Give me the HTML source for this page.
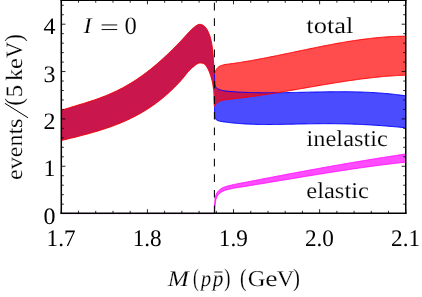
<!DOCTYPE html>
<html><head><meta charset="utf-8"><title>chart</title>
<style>
html,body{margin:0;padding:0;background:#fff;}
body{width:422px;height:297px;overflow:hidden;}
svg{display:block;font-family:"Liberation Serif",serif;text-rendering:geometricPrecision;}
</style></head><body>
<svg width="422" height="297" viewBox="0 0 422 297">
<defs><filter id="nf" filterUnits="userSpaceOnUse" x="0" y="0" width="422" height="297"><feOffset dx="0" dy="0"/></filter></defs>
<rect width="422" height="297" fill="#fff"/>
<g stroke="none">
<path d="M61.30 110.36L62.22 110.06L63.14 109.76L64.07 109.46L64.99 109.16L65.91 108.86L66.83 108.56L67.75 108.26L68.68 107.96L69.60 107.67L70.52 107.38L71.44 107.09L72.36 106.81L73.29 106.53L74.21 106.25L75.13 105.97L76.05 105.69L76.98 105.42L77.90 105.14L78.82 104.86L79.74 104.58L80.67 104.29L81.59 104.01L82.51 103.73L83.43 103.45L84.36 103.17L85.28 102.88L86.20 102.60L87.12 102.31L88.04 102.01L88.96 101.72L89.89 101.42L90.81 101.11L91.74 100.81L92.66 100.50L93.58 100.19L94.50 99.88L95.43 99.57L96.35 99.25L97.27 98.92L98.19 98.59L99.11 98.25L100.04 97.91L100.96 97.57L101.88 97.22L102.81 96.87L103.73 96.51L104.65 96.15L105.57 95.78L106.49 95.40L107.41 95.02L108.25 94.67L109.09 94.31L109.93 93.95L110.77 93.58L111.61 93.21L112.45 92.83L113.29 92.45L114.13 92.07L114.96 91.68L115.80 91.28L116.63 90.88L117.47 90.46L118.32 90.05L119.16 89.62L120.00 89.19L120.84 88.76L121.68 88.32L122.51 87.88L123.35 87.43L124.19 86.97L125.02 86.51L125.85 86.04L126.70 85.56L127.54 85.07L128.38 84.58L129.22 84.08L130.06 83.58L130.90 83.07L131.74 82.56L132.57 82.04L133.41 81.51L134.24 80.98L135.07 80.44L135.85 79.94L136.62 79.42L137.39 78.91L138.17 78.38L138.94 77.86L139.71 77.32L140.47 76.79L141.24 76.25L142.01 75.70L142.77 75.15L143.53 74.60L144.29 74.04L145.07 73.46L145.84 72.88L146.62 72.29L147.39 71.70L148.16 71.11L148.93 70.51L149.70 69.90L150.46 69.29L151.23 68.68L151.99 68.06L152.75 67.44L153.51 66.81L154.23 66.22L154.95 65.62L155.66 65.02L156.37 64.41L157.08 63.80L157.79 63.19L158.50 62.57L159.21 61.95L159.92 61.33L160.62 60.70L161.33 60.07L162.03 59.43L162.74 58.80L163.45 58.14L164.17 57.49L164.88 56.83L165.59 56.16L166.30 55.49L167.01 54.82L167.72 54.15L168.43 53.47L169.14 52.79L169.84 52.11L170.55 51.42L171.25 50.73L171.96 50.04L172.62 49.39L173.28 48.73L173.95 48.07L174.61 47.40L175.27 46.74L175.93 46.07L176.59 45.39L177.24 44.72L177.90 44.04L178.56 43.37L179.21 42.69L179.87 42.01L180.52 41.32L181.18 40.64L181.85 39.93L182.52 39.20L183.21 38.46L183.89 37.70L184.58 36.94L185.27 36.18L185.95 35.43L186.63 34.68L187.29 33.95L187.95 33.24L188.59 32.56L189.21 31.90L189.82 31.28L190.40 30.70L191.19 29.94L191.96 29.22L192.71 28.53L193.43 27.89L194.12 27.31L194.78 26.77L195.40 26.30L196.25 25.70L197.04 25.22L197.80 24.85L198.74 24.50L199.70 24.35L200.48 24.40L201.30 24.58L202.10 24.85L202.92 25.23L203.73 25.71L204.50 26.30L205.14 26.93L205.76 27.67L206.35 28.47L206.90 29.30L207.35 30.06L207.77 30.87L208.17 31.70L208.54 32.55L208.90 33.40L209.24 34.25L209.55 35.09L209.84 35.96L210.13 36.85L210.40 37.80L210.63 38.65L210.85 39.52L211.07 40.41L211.27 41.34L211.47 42.31L211.66 43.32L211.85 44.40L211.98 45.20L212.10 46.04L212.22 46.93L212.34 47.85L212.45 48.79L212.56 49.76L212.67 50.74L212.77 51.73L212.87 52.72L212.96 53.70L213.05 54.66L213.14 55.61L213.22 56.52L213.30 57.40L213.38 58.43L213.46 59.44L213.53 60.45L213.59 61.44L213.64 62.41L213.70 63.37L213.75 64.31L213.80 65.23L213.85 66.12L213.90 67.00L213.96 67.98L214.02 68.92L214.08 69.83L214.13 70.73L214.19 71.61L214.24 72.50L214.30 73.40 L214.50 73.40 L214.50 106.20 L214.30 106.20L214.27 105.32L214.24 104.46L214.22 103.59L214.19 102.73L214.16 101.84L214.13 100.94L214.10 100.00L214.07 99.11L214.05 98.17L214.03 97.21L214.01 96.23L213.99 95.24L213.96 94.27L213.92 93.31L213.87 92.38L213.80 91.50L213.70 90.44L213.58 89.43L213.44 88.44L213.30 87.47L213.15 86.53L213.00 85.60L212.84 84.62L212.69 83.68L212.53 82.75L212.35 81.83L212.15 80.90L211.93 79.94L211.68 78.97L211.42 78.01L211.15 77.05L210.85 76.10L210.54 75.16L210.20 74.21L209.85 73.28L209.48 72.36L209.10 71.45L208.72 70.57L208.33 69.69L207.92 68.82L207.48 67.99L207.00 67.20L206.52 66.48L206.03 65.76L205.50 65.09L204.92 64.49L204.30 64.00L203.47 63.56L202.55 63.24L201.61 63.04L200.70 62.95L199.92 62.97L199.16 63.09L198.40 63.30L197.65 63.60L196.94 63.98L196.23 64.47L195.53 65.02L194.82 65.61L194.10 66.20L193.43 66.73L192.76 67.27L192.09 67.82L191.40 68.42L190.67 69.09L189.90 69.84L189.38 70.39L188.83 70.99L188.26 71.64L187.68 72.33L187.08 73.05L186.46 73.81L185.84 74.58L185.20 75.37L184.56 76.16L183.92 76.96L183.27 77.75L182.62 78.53L181.98 79.30L181.34 80.03L180.71 80.74L180.07 81.45L179.42 82.15L178.78 82.85L178.13 83.54L177.47 84.22L176.82 84.90L176.16 85.58L175.51 86.25L174.85 86.91L174.19 87.57L173.53 88.23L172.86 88.87L172.20 89.52L171.53 90.16L170.83 90.81L170.14 91.47L169.44 92.11L168.73 92.75L168.03 93.39L167.33 94.02L166.62 94.64L165.91 95.26L165.20 95.87L164.49 96.48L163.78 97.08L163.06 97.68L162.34 98.27L161.59 98.88L160.83 99.49L160.07 100.09L159.31 100.69L158.55 101.28L157.78 101.86L157.02 102.44L156.25 103.01L155.48 103.57L154.71 104.13L153.93 104.69L153.16 105.24L152.33 105.81L151.50 106.38L150.67 106.95L149.84 107.50L149.01 108.05L148.17 108.59L147.34 109.13L146.50 109.66L145.66 110.19L144.81 110.70L143.97 111.22L143.14 111.71L142.31 112.20L141.48 112.69L140.65 113.17L139.82 113.64L138.98 114.10L138.14 114.56L137.31 115.02L136.47 115.47L135.63 115.91L134.79 116.35L133.96 116.78L133.13 117.20L132.29 117.62L131.46 118.03L130.63 118.44L129.79 118.84L128.95 119.24L128.12 119.63L127.28 120.02L126.44 120.40L125.60 120.78L124.69 121.19L123.77 121.59L122.85 121.98L121.94 122.37L121.02 122.76L120.10 123.14L119.18 123.51L118.26 123.88L117.34 124.25L116.41 124.61L115.50 124.96L114.58 125.31L113.67 125.66L112.75 126.00L111.83 126.34L110.91 126.67L109.99 126.99L109.07 127.32L108.15 127.64L107.23 127.96L106.31 128.27L105.40 128.58L104.48 128.88L103.56 129.18L102.64 129.48L101.72 129.77L100.80 130.06L99.88 130.35L98.96 130.64L98.04 130.92L97.13 131.20L96.21 131.47L95.29 131.75L94.37 132.02L93.45 132.28L92.54 132.55L91.62 132.81L90.70 133.07L89.78 133.33L88.86 133.58L87.94 133.84L87.02 134.09L86.10 134.33L85.19 134.58L84.27 134.82L83.35 135.07L82.43 135.31L81.51 135.55L80.59 135.78L79.67 136.02L78.75 136.26L77.84 136.49L76.92 136.72L76.00 136.95L75.08 137.18L74.16 137.40L73.24 137.63L72.32 137.85L71.40 138.08L70.49 138.30L69.57 138.52L68.65 138.74L67.73 138.96L66.81 139.18L65.89 139.39L64.97 139.61L64.06 139.82L63.14 140.04L62.22 140.25L61.30 140.47 Z" fill="#0000ff" fill-opacity="0.7"/>
<path d="M214.50 73.40L214.53 74.37L214.54 75.37L214.56 76.39L214.57 77.41L214.59 78.43L214.61 79.42L214.64 80.38L214.68 81.28L214.73 82.13L214.80 82.90L214.91 83.99L215.03 84.96L215.21 85.83L215.50 86.60L215.93 87.30L216.47 87.88L217.10 88.40L217.73 88.81L218.44 89.18L219.20 89.50L220.00 89.80L220.77 90.05L221.56 90.27L222.40 90.46L223.28 90.63L224.20 90.80L225.07 90.94L225.98 91.06L226.92 91.16L227.90 91.26L228.90 91.35L229.94 91.44L231.00 91.53L231.85 91.60L232.74 91.66L233.65 91.73L234.58 91.79L235.53 91.85L236.49 91.91L237.45 91.97L238.42 92.02L239.38 92.08L240.34 92.13L241.28 92.17L242.21 92.22L243.15 92.26L244.08 92.31L245.02 92.35L245.95 92.38L246.89 92.42L247.82 92.45L248.75 92.49L249.69 92.52L250.62 92.54L251.56 92.57L252.49 92.60L253.43 92.62L254.36 92.64L255.30 92.66L256.23 92.68L257.17 92.70L258.10 92.71L259.03 92.73L259.97 92.74L260.90 92.75L261.84 92.76L262.77 92.77L263.71 92.78L264.64 92.78L265.58 92.79L266.51 92.79L267.45 92.79L268.38 92.79L269.31 92.79L270.25 92.79L271.18 92.79L272.12 92.79L273.05 92.78L273.99 92.78L274.92 92.77L275.86 92.77L276.79 92.76L277.72 92.75L278.66 92.74L279.59 92.73L280.53 92.72L281.46 92.70L282.40 92.69L283.33 92.68L284.27 92.66L285.20 92.65L286.14 92.63L287.07 92.62L288.00 92.60L288.94 92.58L289.87 92.57L290.81 92.55L291.74 92.53L292.68 92.51L293.61 92.49L294.55 92.47L295.48 92.45L296.41 92.43L297.35 92.41L298.28 92.39L299.22 92.37L300.15 92.35L301.09 92.33L302.02 92.31L302.96 92.29L303.89 92.27L304.82 92.25L305.76 92.23L306.69 92.21L307.63 92.19L308.56 92.17L309.50 92.14L310.43 92.12L311.37 92.10L312.30 92.08L313.24 92.07L314.17 92.05L315.10 92.03L316.04 92.01L316.97 91.99L317.91 91.97L318.84 91.95L319.78 91.94L320.71 91.92L321.65 91.90L322.58 91.89L323.51 91.88L324.45 91.86L325.38 91.85L326.32 91.83L327.25 91.82L328.19 91.81L329.12 91.80L330.06 91.79L330.99 91.78L331.93 91.77L332.86 91.76L333.79 91.76L334.73 91.75L335.66 91.75L336.60 91.74L337.53 91.74L338.47 91.74L339.40 91.73L340.34 91.73L341.27 91.73L342.20 91.74L343.14 91.74L344.07 91.74L345.01 91.75L345.94 91.76L346.88 91.77L347.81 91.77L348.75 91.79L349.68 91.80L350.62 91.81L351.55 91.82L352.48 91.84L353.42 91.86L354.35 91.88L355.29 91.90L356.22 91.92L357.16 91.94L358.09 91.97L359.03 91.99L359.96 92.02L360.89 92.05L361.83 92.08L362.76 92.11L363.70 92.15L364.63 92.18L365.57 92.22L366.50 92.26L367.44 92.30L368.37 92.35L369.31 92.39L370.24 92.44L371.17 92.49L372.11 92.54L373.04 92.59L373.98 92.65L374.91 92.70L375.85 92.76L376.78 92.82L377.72 92.88L378.65 92.95L379.59 93.02L380.52 93.08L381.45 93.16L382.39 93.23L383.32 93.30L384.26 93.38L385.19 93.46L386.13 93.55L387.06 93.63L388.00 93.72L388.93 93.81L389.87 93.90L390.80 93.99L391.73 94.09L392.67 94.19L393.60 94.29L394.54 94.39L395.47 94.50L396.41 94.61L397.34 94.72L398.28 94.84L399.21 94.96L400.14 95.08L401.08 95.21L402.01 95.33L402.95 95.46L403.88 95.59L404.82 95.71L405.75 95.83 L405.75 127.75L404.83 127.66L403.90 127.58L402.98 127.49L402.05 127.41L401.13 127.32L400.21 127.24L399.28 127.15L398.36 127.07L397.44 126.99L396.51 126.90L395.59 126.82L394.66 126.74L393.74 126.66L392.82 126.58L391.89 126.51L390.97 126.43L390.05 126.35L389.12 126.27L388.20 126.20L387.27 126.13L386.35 126.05L385.43 125.98L384.50 125.91L383.58 125.84L382.66 125.77L381.73 125.70L380.81 125.63L379.88 125.56L378.96 125.50L378.04 125.43L377.11 125.37L376.19 125.31L375.26 125.25L374.34 125.19L373.42 125.13L372.49 125.07L371.57 125.01L370.65 124.96L369.72 124.90L368.80 124.85L367.87 124.79L366.95 124.74L366.03 124.69L365.10 124.64L364.18 124.60L363.26 124.55L362.33 124.50L361.41 124.46L360.48 124.42L359.56 124.38L358.64 124.34L357.71 124.30L356.79 124.26L355.87 124.22L354.94 124.19L354.02 124.15L353.09 124.12L352.17 124.09L351.25 124.06L350.32 124.03L349.40 124.00L348.47 123.97L347.55 123.95L346.63 123.92L345.70 123.90L344.78 123.88L343.86 123.86L342.93 123.84L342.01 123.82L341.08 123.80L340.16 123.79L339.24 123.77L338.31 123.76L337.39 123.75L336.47 123.73L335.54 123.72L334.62 123.71L333.69 123.71L332.77 123.70L331.85 123.69L330.92 123.69L330.00 123.68L329.07 123.68L328.15 123.68L327.23 123.68L326.30 123.68L325.38 123.68L324.46 123.68L323.53 123.68L322.61 123.69L321.68 123.69L320.76 123.70L319.84 123.71L318.91 123.71L317.99 123.72L317.07 123.73L316.14 123.74L315.22 123.75L314.29 123.76L313.37 123.77L312.45 123.78L311.52 123.80L310.60 123.81L309.68 123.82L308.75 123.84L307.83 123.85L306.90 123.87L305.98 123.89L305.06 123.90L304.13 123.92L303.21 123.94L302.28 123.95L301.36 123.97L300.44 123.99L299.51 124.01L298.59 124.03L297.67 124.05L296.74 124.06L295.82 124.08L294.89 124.10L293.97 124.12L293.05 124.14L292.12 124.16L291.20 124.17L290.28 124.19L289.35 124.21L288.43 124.23L287.50 124.25L286.58 124.27L285.66 124.28L284.73 124.30L283.81 124.31L282.89 124.33L281.96 124.34L281.04 124.36L280.11 124.37L279.19 124.39L278.27 124.40L277.34 124.41L276.42 124.42L275.49 124.43L274.57 124.44L273.65 124.45L272.72 124.45L271.80 124.46L270.88 124.47L269.95 124.47L269.03 124.47L268.10 124.47L267.18 124.47L266.26 124.47L265.33 124.47L264.41 124.46L263.49 124.46L262.56 124.45L261.64 124.44L260.71 124.43L259.79 124.41L258.87 124.40L257.94 124.38L257.02 124.36L256.09 124.34L255.17 124.32L254.25 124.30L253.32 124.27L252.40 124.24L251.48 124.20L250.55 124.17L249.63 124.13L248.70 124.09L247.78 124.05L246.86 124.01L245.93 123.96L245.01 123.91L244.09 123.85L243.16 123.80L242.23 123.73L241.30 123.67L240.36 123.60L239.41 123.53L238.47 123.45L237.54 123.38L236.60 123.30L235.68 123.21L234.77 123.13L233.88 123.04L233.00 122.96L232.06 122.86L231.13 122.76L230.21 122.66L229.29 122.55L228.40 122.44L227.52 122.34L226.66 122.23L225.82 122.11L225.00 122.00L224.00 121.87L223.03 121.74L222.08 121.61L221.17 121.47L220.31 121.30L219.50 121.10L218.62 120.84L217.79 120.56L217.04 120.23L216.40 119.80L215.81 119.18L215.35 118.45L215.00 117.60L214.81 116.82L214.71 115.94L214.66 114.99L214.63 114.00L214.60 113.00L214.56 112.12L214.54 111.20L214.53 110.26L214.52 109.29L214.52 108.32L214.51 107.35L214.50 106.40 Z" fill="#0000ff" fill-opacity="0.7"/>
<path d="M61.30 110.36L62.22 110.06L63.14 109.76L64.07 109.46L64.99 109.16L65.91 108.86L66.83 108.56L67.75 108.26L68.68 107.96L69.60 107.67L70.52 107.38L71.44 107.09L72.36 106.81L73.29 106.53L74.21 106.25L75.13 105.97L76.05 105.69L76.98 105.42L77.90 105.14L78.82 104.86L79.74 104.58L80.67 104.29L81.59 104.01L82.51 103.73L83.43 103.45L84.36 103.17L85.28 102.88L86.20 102.60L87.12 102.31L88.04 102.01L88.96 101.72L89.89 101.42L90.81 101.11L91.74 100.81L92.66 100.50L93.58 100.19L94.50 99.88L95.43 99.57L96.35 99.25L97.27 98.92L98.19 98.59L99.11 98.25L100.04 97.91L100.96 97.57L101.88 97.22L102.81 96.87L103.73 96.51L104.65 96.15L105.57 95.78L106.49 95.40L107.41 95.02L108.25 94.67L109.09 94.31L109.93 93.95L110.77 93.58L111.61 93.21L112.45 92.83L113.29 92.45L114.13 92.07L114.96 91.68L115.80 91.28L116.63 90.88L117.47 90.46L118.32 90.05L119.16 89.62L120.00 89.19L120.84 88.76L121.68 88.32L122.51 87.88L123.35 87.43L124.19 86.97L125.02 86.51L125.85 86.04L126.70 85.56L127.54 85.07L128.38 84.58L129.22 84.08L130.06 83.58L130.90 83.07L131.74 82.56L132.57 82.04L133.41 81.51L134.24 80.98L135.07 80.44L135.85 79.94L136.62 79.42L137.39 78.91L138.17 78.38L138.94 77.86L139.71 77.32L140.47 76.79L141.24 76.25L142.01 75.70L142.77 75.15L143.53 74.60L144.29 74.04L145.07 73.46L145.84 72.88L146.62 72.29L147.39 71.70L148.16 71.11L148.93 70.51L149.70 69.90L150.46 69.29L151.23 68.68L151.99 68.06L152.75 67.44L153.51 66.81L154.23 66.22L154.95 65.62L155.66 65.02L156.37 64.41L157.08 63.80L157.79 63.19L158.50 62.57L159.21 61.95L159.92 61.33L160.62 60.70L161.33 60.07L162.03 59.43L162.74 58.80L163.45 58.14L164.17 57.49L164.88 56.83L165.59 56.16L166.30 55.49L167.01 54.82L167.72 54.15L168.43 53.47L169.14 52.79L169.84 52.11L170.55 51.42L171.25 50.73L171.96 50.04L172.62 49.39L173.28 48.73L173.95 48.07L174.61 47.40L175.27 46.74L175.93 46.07L176.59 45.39L177.24 44.72L177.90 44.04L178.56 43.37L179.21 42.69L179.87 42.01L180.52 41.32L181.18 40.64L181.85 39.93L182.52 39.20L183.21 38.46L183.89 37.70L184.58 36.94L185.27 36.18L185.95 35.43L186.63 34.68L187.29 33.95L187.95 33.24L188.59 32.56L189.21 31.90L189.82 31.28L190.40 30.70L191.19 29.94L191.96 29.22L192.71 28.53L193.43 27.89L194.12 27.31L194.78 26.77L195.40 26.30L196.25 25.70L197.04 25.22L197.80 24.85L198.74 24.50L199.70 24.35L200.48 24.40L201.30 24.58L202.10 24.85L202.92 25.23L203.73 25.71L204.50 26.30L205.14 26.93L205.76 27.67L206.35 28.47L206.90 29.30L207.35 30.06L207.77 30.87L208.17 31.70L208.54 32.55L208.90 33.40L209.24 34.25L209.55 35.09L209.84 35.96L210.13 36.85L210.40 37.80L210.63 38.65L210.85 39.52L211.07 40.41L211.27 41.34L211.47 42.31L211.66 43.32L211.85 44.40L211.98 45.20L212.10 46.04L212.22 46.93L212.34 47.85L212.45 48.79L212.56 49.76L212.67 50.74L212.77 51.73L212.87 52.72L212.96 53.70L213.05 54.66L213.14 55.61L213.22 56.52L213.30 57.40L213.38 58.43L213.46 59.44L213.53 60.45L213.59 61.44L213.64 62.41L213.70 63.37L213.75 64.31L213.80 65.23L213.85 66.12L213.90 67.00L213.96 67.98L214.02 68.92L214.08 69.83L214.13 70.73L214.19 71.61L214.24 72.50L214.30 73.40 L214.50 73.40 L214.50 106.20 L214.30 106.20L214.27 105.32L214.24 104.46L214.22 103.59L214.19 102.73L214.16 101.84L214.13 100.94L214.10 100.00L214.07 99.11L214.05 98.17L214.03 97.21L214.01 96.23L213.99 95.24L213.96 94.27L213.92 93.31L213.87 92.38L213.80 91.50L213.70 90.44L213.58 89.43L213.44 88.44L213.30 87.47L213.15 86.53L213.00 85.60L212.84 84.62L212.69 83.68L212.53 82.75L212.35 81.83L212.15 80.90L211.93 79.94L211.68 78.97L211.42 78.01L211.15 77.05L210.85 76.10L210.54 75.16L210.20 74.21L209.85 73.28L209.48 72.36L209.10 71.45L208.72 70.57L208.33 69.69L207.92 68.82L207.48 67.99L207.00 67.20L206.52 66.48L206.03 65.76L205.50 65.09L204.92 64.49L204.30 64.00L203.47 63.56L202.55 63.24L201.61 63.04L200.70 62.95L199.92 62.97L199.16 63.09L198.40 63.30L197.65 63.60L196.94 63.98L196.23 64.47L195.53 65.02L194.82 65.61L194.10 66.20L193.43 66.73L192.76 67.27L192.09 67.82L191.40 68.42L190.67 69.09L189.90 69.84L189.38 70.39L188.83 70.99L188.26 71.64L187.68 72.33L187.08 73.05L186.46 73.81L185.84 74.58L185.20 75.37L184.56 76.16L183.92 76.96L183.27 77.75L182.62 78.53L181.98 79.30L181.34 80.03L180.71 80.74L180.07 81.45L179.42 82.15L178.78 82.85L178.13 83.54L177.47 84.22L176.82 84.90L176.16 85.58L175.51 86.25L174.85 86.91L174.19 87.57L173.53 88.23L172.86 88.87L172.20 89.52L171.53 90.16L170.83 90.81L170.14 91.47L169.44 92.11L168.73 92.75L168.03 93.39L167.33 94.02L166.62 94.64L165.91 95.26L165.20 95.87L164.49 96.48L163.78 97.08L163.06 97.68L162.34 98.27L161.59 98.88L160.83 99.49L160.07 100.09L159.31 100.69L158.55 101.28L157.78 101.86L157.02 102.44L156.25 103.01L155.48 103.57L154.71 104.13L153.93 104.69L153.16 105.24L152.33 105.81L151.50 106.38L150.67 106.95L149.84 107.50L149.01 108.05L148.17 108.59L147.34 109.13L146.50 109.66L145.66 110.19L144.81 110.70L143.97 111.22L143.14 111.71L142.31 112.20L141.48 112.69L140.65 113.17L139.82 113.64L138.98 114.10L138.14 114.56L137.31 115.02L136.47 115.47L135.63 115.91L134.79 116.35L133.96 116.78L133.13 117.20L132.29 117.62L131.46 118.03L130.63 118.44L129.79 118.84L128.95 119.24L128.12 119.63L127.28 120.02L126.44 120.40L125.60 120.78L124.69 121.19L123.77 121.59L122.85 121.98L121.94 122.37L121.02 122.76L120.10 123.14L119.18 123.51L118.26 123.88L117.34 124.25L116.41 124.61L115.50 124.96L114.58 125.31L113.67 125.66L112.75 126.00L111.83 126.34L110.91 126.67L109.99 126.99L109.07 127.32L108.15 127.64L107.23 127.96L106.31 128.27L105.40 128.58L104.48 128.88L103.56 129.18L102.64 129.48L101.72 129.77L100.80 130.06L99.88 130.35L98.96 130.64L98.04 130.92L97.13 131.20L96.21 131.47L95.29 131.75L94.37 132.02L93.45 132.28L92.54 132.55L91.62 132.81L90.70 133.07L89.78 133.33L88.86 133.58L87.94 133.84L87.02 134.09L86.10 134.33L85.19 134.58L84.27 134.82L83.35 135.07L82.43 135.31L81.51 135.55L80.59 135.78L79.67 136.02L78.75 136.26L77.84 136.49L76.92 136.72L76.00 136.95L75.08 137.18L74.16 137.40L73.24 137.63L72.32 137.85L71.40 138.08L70.49 138.30L69.57 138.52L68.65 138.74L67.73 138.96L66.81 139.18L65.89 139.39L64.97 139.61L64.06 139.82L63.14 140.04L62.22 140.25L61.30 140.47 Z" fill="#ff0000" fill-opacity="0.7"/>
<path d="M214.50 73.40L214.75 72.74L215.00 72.08L215.30 71.40L215.70 70.57L216.16 69.72L216.70 68.90L217.22 68.25L217.79 67.61L218.42 67.01L219.10 66.50L219.86 66.08L220.68 65.75L221.54 65.46L222.40 65.20L223.26 64.96L224.13 64.76L225.03 64.58L226.00 64.40L226.76 64.28L227.55 64.17L228.38 64.07L229.24 63.97L230.13 63.87L231.05 63.76L232.00 63.63L232.83 63.51L233.69 63.39L234.59 63.26L235.52 63.12L236.46 62.98L237.42 62.83L238.39 62.68L239.36 62.53L240.33 62.38L241.28 62.23L242.22 62.08L243.15 61.93L244.08 61.78L245.01 61.62L245.94 61.47L246.87 61.31L247.80 61.15L248.73 60.99L249.66 60.83L250.58 60.67L251.51 60.50L252.44 60.34L253.37 60.17L254.30 60.01L255.23 59.84L256.16 59.67L257.09 59.50L258.02 59.32L258.95 59.15L259.88 58.97L260.80 58.80L261.73 58.62L262.66 58.45L263.59 58.27L264.52 58.09L265.45 57.91L266.38 57.73L267.31 57.54L268.24 57.36L269.17 57.18L270.10 56.99L271.02 56.81L271.95 56.62L272.88 56.44L273.81 56.25L274.74 56.06L275.67 55.87L276.60 55.68L277.53 55.49L278.46 55.30L279.39 55.11L280.32 54.92L281.25 54.73L282.17 54.54L283.10 54.35L284.03 54.15L284.96 53.96L285.89 53.77L286.82 53.57L287.75 53.38L288.68 53.19L289.61 52.99L290.54 52.80L291.47 52.60L292.39 52.41L293.32 52.21L294.25 52.02L295.18 51.82L296.11 51.63L297.04 51.43L297.97 51.24L298.90 51.04L299.83 50.85L300.76 50.65L301.69 50.46L302.61 50.27L303.54 50.07L304.47 49.88L305.40 49.68L306.33 49.49L307.26 49.30L308.19 49.11L309.12 48.91L310.05 48.72L310.98 48.53L311.91 48.34L312.84 48.15L313.76 47.96L314.69 47.77L315.62 47.58L316.55 47.39L317.48 47.20L318.41 47.02L319.34 46.83L320.27 46.64L321.20 46.46L322.13 46.28L323.06 46.09L323.99 45.91L324.91 45.73L325.84 45.55L326.77 45.37L327.70 45.19L328.63 45.01L329.56 44.83L330.49 44.66L331.42 44.48L332.35 44.31L333.28 44.13L334.21 43.96L335.13 43.79L336.06 43.62L336.99 43.45L337.92 43.29L338.85 43.12L339.78 42.96L340.71 42.79L341.64 42.63L342.57 42.47L343.50 42.31L344.43 42.15L345.36 42.00L346.28 41.84L347.21 41.69L348.14 41.53L349.07 41.38L350.00 41.23L350.93 41.09L351.86 40.94L352.79 40.80L353.72 40.65L354.65 40.51L355.58 40.37L356.50 40.24L357.43 40.10L358.36 39.97L359.29 39.84L360.22 39.71L361.15 39.58L362.08 39.45L363.01 39.33L363.94 39.21L364.87 39.09L365.80 38.97L366.72 38.85L367.65 38.74L368.58 38.63L369.51 38.52L370.44 38.41L371.37 38.30L372.30 38.20L373.23 38.10L374.16 38.00L375.09 37.90L376.02 37.81L376.95 37.72L377.87 37.63L378.80 37.54L379.73 37.46L380.66 37.37L381.59 37.29L382.52 37.22L383.45 37.14L384.38 37.07L385.31 37.00L386.24 36.93L387.17 36.87L388.10 36.81L389.02 36.75L389.95 36.69L390.88 36.64L391.81 36.59L392.74 36.54L393.67 36.50L394.60 36.46L395.53 36.42L396.46 36.38L397.39 36.35L398.32 36.33L399.25 36.31L400.17 36.29L401.10 36.27L402.03 36.26L402.96 36.24L403.89 36.23L404.82 36.21L405.75 36.19 L405.75 75.12L404.83 75.16L403.90 75.21L402.98 75.25L402.05 75.29L401.13 75.33L400.21 75.37L399.28 75.42L398.36 75.46L397.44 75.51L396.51 75.56L395.59 75.62L394.66 75.68L393.74 75.74L392.82 75.80L391.89 75.87L390.97 75.93L390.04 76.00L389.12 76.07L388.20 76.15L387.27 76.22L386.35 76.30L385.43 76.38L384.50 76.46L383.58 76.54L382.65 76.62L381.73 76.71L380.81 76.79L379.88 76.88L378.96 76.97L378.04 77.07L377.11 77.16L376.19 77.26L375.26 77.35L374.34 77.45L373.42 77.55L372.49 77.66L371.57 77.76L370.64 77.87L369.72 77.97L368.80 78.08L367.87 78.19L366.95 78.30L366.03 78.42L365.10 78.53L364.18 78.65L363.25 78.76L362.33 78.88L361.41 79.00L360.48 79.12L359.56 79.24L358.64 79.37L357.71 79.49L356.79 79.62L355.86 79.75L354.94 79.87L354.02 80.00L353.09 80.13L352.17 80.27L351.24 80.40L350.32 80.53L349.40 80.67L348.47 80.80L347.55 80.94L346.63 81.08L345.70 81.22L344.78 81.36L343.86 81.50L342.93 81.64L342.01 81.78L341.08 81.93L340.16 82.07L339.24 82.22L338.31 82.36L337.39 82.51L336.46 82.66L335.54 82.81L334.62 82.95L333.69 83.10L332.77 83.25L331.85 83.40L330.92 83.56L330.00 83.71L329.07 83.86L328.15 84.01L327.23 84.17L326.30 84.32L325.38 84.48L324.46 84.63L323.53 84.79L322.61 84.94L321.68 85.10L320.76 85.26L319.84 85.42L318.91 85.57L317.99 85.73L317.07 85.89L316.14 86.05L315.22 86.21L314.29 86.37L313.37 86.53L312.45 86.69L311.52 86.85L310.60 87.01L309.67 87.17L308.75 87.33L307.83 87.49L306.90 87.65L305.98 87.81L305.06 87.97L304.13 88.13L303.21 88.29L302.28 88.45L301.36 88.61L300.44 88.77L299.51 88.93L298.59 89.09L297.67 89.25L296.74 89.41L295.82 89.57L294.89 89.73L293.97 89.89L293.05 90.05L292.12 90.21L291.20 90.37L290.28 90.52L289.35 90.68L288.43 90.84L287.50 91.00L286.58 91.15L285.66 91.31L284.73 91.47L283.81 91.62L282.89 91.78L281.96 91.93L281.04 92.09L280.11 92.24L279.19 92.39L278.27 92.54L277.34 92.70L276.42 92.85L275.50 93.00L274.57 93.15L273.65 93.30L272.72 93.44L271.80 93.59L270.88 93.74L269.95 93.89L269.03 94.03L268.11 94.18L267.18 94.32L266.26 94.46L265.33 94.61L264.41 94.75L263.49 94.89L262.56 95.03L261.64 95.16L260.71 95.30L259.79 95.44L258.87 95.57L257.94 95.71L257.02 95.84L256.10 95.97L255.17 96.10L254.25 96.23L253.32 96.36L252.40 96.49L251.48 96.62L250.55 96.74L249.63 96.86L248.71 96.99L247.78 97.11L246.86 97.23L245.93 97.35L245.01 97.47L244.09 97.58L243.16 97.70L242.23 97.81L241.29 97.92L240.35 98.03L239.40 98.13L238.45 98.24L237.51 98.35L236.58 98.45L235.66 98.55L234.75 98.65L233.86 98.76L233.00 98.86L232.01 98.98L231.02 99.09L230.05 99.21L229.10 99.32L228.18 99.43L227.29 99.55L226.42 99.67L225.60 99.80L224.64 99.95L223.74 100.09L222.88 100.25L222.04 100.44L221.20 100.70L220.30 101.03L219.39 101.41L218.50 101.84L217.69 102.31L217.00 102.80L216.31 103.51L215.76 104.28L215.30 105.00L214.87 105.71L214.50 106.40 Z" fill="#ff0000" fill-opacity="0.7"/>
<path d="M214.40 213.30L214.43 212.38L214.45 211.45L214.47 210.50L214.49 209.56L214.51 208.61L214.53 207.67L214.55 206.75L214.58 205.84L214.61 204.96L214.65 204.11L214.70 203.30L214.76 202.35L214.81 201.45L214.86 200.57L214.93 199.73L215.01 198.90L215.14 198.10L215.30 197.30L215.51 196.46L215.75 195.64L216.01 194.83L216.32 194.06L216.68 193.31L217.10 192.60L217.58 191.92L218.13 191.27L218.72 190.65L219.36 190.06L220.02 189.51L220.70 189.00L221.40 188.53L222.13 188.11L222.89 187.73L223.68 187.37L224.51 187.03L225.40 186.70L226.20 186.42L227.05 186.16L227.94 185.92L228.86 185.68L229.81 185.45L230.77 185.23L231.75 185.02L232.73 184.80L233.70 184.59L234.58 184.39L235.48 184.20L236.38 184.02L237.30 183.84L238.23 183.66L239.16 183.49L240.10 183.31L241.03 183.14L241.97 182.96L242.90 182.78L243.82 182.61L244.74 182.43L245.66 182.25L246.58 182.07L247.50 181.89L248.42 181.71L249.34 181.53L250.26 181.35L251.18 181.17L252.10 180.99L253.02 180.81L253.94 180.64L254.86 180.46L255.78 180.28L256.70 180.10L257.62 179.92L258.54 179.74L259.46 179.57L260.38 179.39L261.30 179.21L262.22 179.03L263.14 178.85L264.06 178.68L264.98 178.50L265.90 178.32L266.82 178.15L267.74 177.97L268.66 177.79L269.58 177.62L270.50 177.44L271.42 177.26L272.34 177.09L273.26 176.91L274.18 176.73L275.10 176.56L276.02 176.38L276.94 176.21L277.86 176.03L278.78 175.86L279.70 175.68L280.62 175.51L281.54 175.33L282.46 175.16L283.38 174.98L284.30 174.81L285.22 174.64L286.14 174.46L287.06 174.29L287.98 174.11L288.90 173.94L289.82 173.77L290.74 173.60L291.66 173.42L292.58 173.25L293.50 173.08L294.42 172.91L295.34 172.73L296.26 172.56L297.18 172.39L298.10 172.22L299.02 172.05L299.94 171.88L300.86 171.70L301.78 171.53L302.70 171.36L303.62 171.19L304.54 171.02L305.46 170.85L306.38 170.68L307.30 170.51L308.22 170.35L309.14 170.18L310.06 170.01L310.98 169.84L311.90 169.67L312.82 169.50L313.74 169.33L314.66 169.17L315.58 169.00L316.50 168.83L317.42 168.66L318.34 168.50L319.26 168.33L320.18 168.17L321.10 168.00L322.02 167.83L322.94 167.67L323.87 167.50L324.79 167.34L325.71 167.17L326.63 167.01L327.55 166.84L328.47 166.68L329.39 166.52L330.31 166.35L331.23 166.19L332.15 166.03L333.07 165.86L333.99 165.70L334.91 165.54L335.83 165.38L336.75 165.22L337.67 165.05L338.59 164.89L339.51 164.73L340.43 164.57L341.35 164.41L342.27 164.25L343.19 164.09L344.11 163.93L345.03 163.77L345.95 163.61L346.87 163.46L347.79 163.30L348.71 163.14L349.63 162.98L350.55 162.83L351.47 162.67L352.39 162.51L353.31 162.36L354.23 162.20L355.15 162.04L356.07 161.89L356.99 161.73L357.91 161.58L358.83 161.42L359.75 161.27L360.67 161.12L361.59 160.96L362.51 160.81L363.43 160.66L364.35 160.50L365.27 160.35L366.19 160.20L367.11 160.05L368.03 159.90L368.95 159.75L369.87 159.59L370.79 159.44L371.71 159.29L372.63 159.15L373.55 159.00L374.47 158.85L375.39 158.70L376.31 158.55L377.23 158.40L378.15 158.26L379.07 158.11L379.99 157.96L380.91 157.82L381.83 157.67L382.75 157.52L383.67 157.38L384.59 157.23L385.51 157.09L386.43 156.95L387.35 156.80L388.27 156.66L389.19 156.52L390.11 156.37L391.03 156.23L391.95 156.09L392.87 155.95L393.79 155.81L394.71 155.67L395.63 155.53L396.55 155.39L397.47 155.25L398.39 155.11L399.31 154.97L400.23 154.83L401.15 154.70L402.07 154.56L402.99 154.42L403.91 154.29L404.83 154.15L405.75 154.01 L405.75 162.13L404.83 162.23L403.91 162.34L402.99 162.44L402.07 162.54L401.15 162.65L400.23 162.75L399.31 162.85L398.39 162.96L397.47 163.06L396.55 163.17L395.63 163.28L394.71 163.39L393.79 163.50L392.87 163.61L391.95 163.72L391.03 163.83L390.11 163.94L389.19 164.05L388.27 164.17L387.35 164.28L386.43 164.40L385.51 164.51L384.59 164.63L383.67 164.74L382.75 164.86L381.83 164.98L380.91 165.10L379.99 165.22L379.07 165.34L378.15 165.46L377.23 165.58L376.31 165.70L375.39 165.82L374.47 165.95L373.55 166.07L372.63 166.20L371.71 166.32L370.79 166.45L369.87 166.57L368.95 166.70L368.03 166.82L367.11 166.95L366.19 167.08L365.27 167.21L364.35 167.34L363.43 167.47L362.51 167.60L361.59 167.73L360.67 167.86L359.75 167.99L358.83 168.12L357.91 168.26L356.99 168.39L356.07 168.52L355.15 168.66L354.23 168.79L353.31 168.93L352.39 169.06L351.47 169.20L350.55 169.33L349.63 169.47L348.71 169.61L347.79 169.74L346.87 169.88L345.95 170.02L345.03 170.16L344.11 170.30L343.19 170.44L342.27 170.58L341.35 170.72L340.43 170.86L339.51 171.00L338.59 171.14L337.67 171.28L336.75 171.43L335.83 171.57L334.91 171.71L333.99 171.85L333.07 172.00L332.15 172.14L331.23 172.29L330.31 172.43L329.39 172.58L328.47 172.72L327.55 172.87L326.63 173.01L325.71 173.16L324.79 173.30L323.87 173.45L322.95 173.60L322.02 173.74L321.10 173.89L320.18 174.04L319.26 174.19L318.34 174.34L317.42 174.48L316.50 174.63L315.58 174.78L314.66 174.93L313.74 175.08L312.82 175.23L311.90 175.38L310.98 175.53L310.06 175.68L309.14 175.83L308.22 175.98L307.30 176.13L306.38 176.28L305.46 176.43L304.54 176.58L303.62 176.73L302.70 176.88L301.78 177.03L300.86 177.19L299.94 177.34L299.02 177.49L298.10 177.64L297.18 177.79L296.26 177.95L295.34 178.10L294.42 178.25L293.50 178.40L292.58 178.55L291.66 178.71L290.74 178.86L289.82 179.01L288.90 179.17L287.98 179.32L287.06 179.47L286.14 179.62L285.22 179.78L284.30 179.93L283.38 180.08L282.46 180.24L281.54 180.39L280.62 180.54L279.70 180.69L278.78 180.85L277.86 181.00L276.94 181.15L276.02 181.31L275.10 181.46L274.18 181.61L273.26 181.77L272.34 181.92L271.42 182.07L270.50 182.22L269.58 182.38L268.66 182.53L267.74 182.68L266.82 182.83L265.90 182.99L264.98 183.14L264.06 183.29L263.14 183.44L262.22 183.59L261.30 183.75L260.38 183.90L259.46 184.05L258.54 184.20L257.62 184.35L256.70 184.50L255.78 184.66L254.86 184.81L253.94 184.96L253.02 185.11L252.10 185.26L251.18 185.41L250.26 185.56L249.34 185.71L248.42 185.86L247.50 186.01L246.58 186.16L245.66 186.31L244.74 186.45L243.82 186.60L242.90 186.75L241.97 186.89L241.03 187.03L240.10 187.17L239.16 187.31L238.23 187.45L237.30 187.59L236.38 187.74L235.47 187.89L234.58 188.05L233.70 188.22L232.72 188.41L231.75 188.61L230.77 188.80L229.81 189.00L228.86 189.21L227.94 189.43L227.05 189.67L226.20 189.92L225.40 190.20L224.51 190.55L223.66 190.91L222.86 191.30L222.10 191.70L221.38 192.14L220.70 192.60L220.01 193.12L219.36 193.66L218.76 194.23L218.20 194.84L217.70 195.50L217.24 196.24L216.84 197.03L216.49 197.87L216.18 198.76L215.90 199.70L215.71 200.49L215.55 201.34L215.42 202.23L215.31 203.14L215.22 204.07L215.14 205.00L215.07 205.91L215.00 206.80L214.94 207.74L214.90 208.68L214.87 209.60L214.85 210.53L214.84 211.45L214.82 212.37L214.80 213.30 Z" fill="#ff00ff" fill-opacity="0.7"/>
</g>
<g fill="none" stroke-width="1.0">
<path d="M214.50 73.40L214.53 74.37L214.54 75.37L214.56 76.39L214.57 77.41L214.59 78.43L214.61 79.42L214.64 80.38L214.68 81.28L214.73 82.13L214.80 82.90L214.91 83.99L215.03 84.96L215.21 85.83L215.50 86.60L215.93 87.30L216.47 87.88L217.10 88.40L217.73 88.81L218.44 89.18L219.20 89.50L220.00 89.80L220.77 90.05L221.56 90.27L222.40 90.46L223.28 90.63L224.20 90.80L225.07 90.94L225.98 91.06L226.92 91.16L227.90 91.26L228.90 91.35L229.94 91.44L231.00 91.53L231.85 91.60L232.74 91.66L233.65 91.73L234.58 91.79L235.53 91.85L236.49 91.91L237.45 91.97L238.42 92.02L239.38 92.08L240.34 92.13L241.28 92.17L242.21 92.22L243.15 92.26L244.08 92.31L245.02 92.35L245.95 92.38L246.89 92.42L247.82 92.45L248.75 92.49L249.69 92.52L250.62 92.54L251.56 92.57L252.49 92.60L253.43 92.62L254.36 92.64L255.30 92.66L256.23 92.68L257.17 92.70L258.10 92.71L259.03 92.73L259.97 92.74L260.90 92.75L261.84 92.76L262.77 92.77L263.71 92.78L264.64 92.78L265.58 92.79L266.51 92.79L267.45 92.79L268.38 92.79L269.31 92.79L270.25 92.79L271.18 92.79L272.12 92.79L273.05 92.78L273.99 92.78L274.92 92.77L275.86 92.77L276.79 92.76L277.72 92.75L278.66 92.74L279.59 92.73L280.53 92.72L281.46 92.70L282.40 92.69L283.33 92.68L284.27 92.66L285.20 92.65L286.14 92.63L287.07 92.62L288.00 92.60L288.94 92.58L289.87 92.57L290.81 92.55L291.74 92.53L292.68 92.51L293.61 92.49L294.55 92.47L295.48 92.45L296.41 92.43L297.35 92.41L298.28 92.39L299.22 92.37L300.15 92.35L301.09 92.33L302.02 92.31L302.96 92.29L303.89 92.27L304.82 92.25L305.76 92.23L306.69 92.21L307.63 92.19L308.56 92.17L309.50 92.14L310.43 92.12L311.37 92.10L312.30 92.08L313.24 92.07L314.17 92.05L315.10 92.03L316.04 92.01L316.97 91.99L317.91 91.97L318.84 91.95L319.78 91.94L320.71 91.92L321.65 91.90L322.58 91.89L323.51 91.88L324.45 91.86L325.38 91.85L326.32 91.83L327.25 91.82L328.19 91.81L329.12 91.80L330.06 91.79L330.99 91.78L331.93 91.77L332.86 91.76L333.79 91.76L334.73 91.75L335.66 91.75L336.60 91.74L337.53 91.74L338.47 91.74L339.40 91.73L340.34 91.73L341.27 91.73L342.20 91.74L343.14 91.74L344.07 91.74L345.01 91.75L345.94 91.76L346.88 91.77L347.81 91.77L348.75 91.79L349.68 91.80L350.62 91.81L351.55 91.82L352.48 91.84L353.42 91.86L354.35 91.88L355.29 91.90L356.22 91.92L357.16 91.94L358.09 91.97L359.03 91.99L359.96 92.02L360.89 92.05L361.83 92.08L362.76 92.11L363.70 92.15L364.63 92.18L365.57 92.22L366.50 92.26L367.44 92.30L368.37 92.35L369.31 92.39L370.24 92.44L371.17 92.49L372.11 92.54L373.04 92.59L373.98 92.65L374.91 92.70L375.85 92.76L376.78 92.82L377.72 92.88L378.65 92.95L379.59 93.02L380.52 93.08L381.45 93.16L382.39 93.23L383.32 93.30L384.26 93.38L385.19 93.46L386.13 93.55L387.06 93.63L388.00 93.72L388.93 93.81L389.87 93.90L390.80 93.99L391.73 94.09L392.67 94.19L393.60 94.29L394.54 94.39L395.47 94.50L396.41 94.61L397.34 94.72L398.28 94.84L399.21 94.96L400.14 95.08L401.08 95.21L402.01 95.33L402.95 95.46L403.88 95.59L404.82 95.71L405.75 95.83" stroke="#0000ff"/>
<path d="M214.50 106.40L214.51 107.35L214.52 108.32L214.52 109.29L214.53 110.26L214.54 111.20L214.56 112.12L214.60 113.00L214.63 114.00L214.66 114.99L214.71 115.94L214.81 116.82L215.00 117.60L215.35 118.45L215.81 119.18L216.40 119.80L217.04 120.23L217.79 120.56L218.62 120.84L219.50 121.10L220.31 121.30L221.17 121.47L222.08 121.61L223.03 121.74L224.00 121.87L225.00 122.00L225.82 122.11L226.66 122.23L227.52 122.34L228.40 122.44L229.29 122.55L230.21 122.66L231.13 122.76L232.06 122.86L233.00 122.96L233.88 123.04L234.77 123.13L235.68 123.21L236.60 123.30L237.54 123.38L238.47 123.45L239.41 123.53L240.36 123.60L241.30 123.67L242.23 123.73L243.16 123.80L244.09 123.85L245.01 123.91L245.93 123.96L246.86 124.01L247.78 124.05L248.70 124.09L249.63 124.13L250.55 124.17L251.48 124.20L252.40 124.24L253.32 124.27L254.25 124.30L255.17 124.32L256.09 124.34L257.02 124.36L257.94 124.38L258.87 124.40L259.79 124.41L260.71 124.43L261.64 124.44L262.56 124.45L263.49 124.46L264.41 124.46L265.33 124.47L266.26 124.47L267.18 124.47L268.10 124.47L269.03 124.47L269.95 124.47L270.88 124.47L271.80 124.46L272.72 124.45L273.65 124.45L274.57 124.44L275.49 124.43L276.42 124.42L277.34 124.41L278.27 124.40L279.19 124.39L280.11 124.37L281.04 124.36L281.96 124.34L282.89 124.33L283.81 124.31L284.73 124.30L285.66 124.28L286.58 124.27L287.50 124.25L288.43 124.23L289.35 124.21L290.28 124.19L291.20 124.17L292.12 124.16L293.05 124.14L293.97 124.12L294.89 124.10L295.82 124.08L296.74 124.06L297.67 124.05L298.59 124.03L299.51 124.01L300.44 123.99L301.36 123.97L302.28 123.95L303.21 123.94L304.13 123.92L305.06 123.90L305.98 123.89L306.90 123.87L307.83 123.85L308.75 123.84L309.68 123.82L310.60 123.81L311.52 123.80L312.45 123.78L313.37 123.77L314.29 123.76L315.22 123.75L316.14 123.74L317.07 123.73L317.99 123.72L318.91 123.71L319.84 123.71L320.76 123.70L321.68 123.69L322.61 123.69L323.53 123.68L324.46 123.68L325.38 123.68L326.30 123.68L327.23 123.68L328.15 123.68L329.07 123.68L330.00 123.68L330.92 123.69L331.85 123.69L332.77 123.70L333.69 123.71L334.62 123.71L335.54 123.72L336.47 123.73L337.39 123.75L338.31 123.76L339.24 123.77L340.16 123.79L341.08 123.80L342.01 123.82L342.93 123.84L343.86 123.86L344.78 123.88L345.70 123.90L346.63 123.92L347.55 123.95L348.47 123.97L349.40 124.00L350.32 124.03L351.25 124.06L352.17 124.09L353.09 124.12L354.02 124.15L354.94 124.19L355.87 124.22L356.79 124.26L357.71 124.30L358.64 124.34L359.56 124.38L360.48 124.42L361.41 124.46L362.33 124.50L363.26 124.55L364.18 124.60L365.10 124.64L366.03 124.69L366.95 124.74L367.87 124.79L368.80 124.85L369.72 124.90L370.65 124.96L371.57 125.01L372.49 125.07L373.42 125.13L374.34 125.19L375.26 125.25L376.19 125.31L377.11 125.37L378.04 125.43L378.96 125.50L379.88 125.56L380.81 125.63L381.73 125.70L382.66 125.77L383.58 125.84L384.50 125.91L385.43 125.98L386.35 126.05L387.27 126.13L388.20 126.20L389.12 126.27L390.05 126.35L390.97 126.43L391.89 126.51L392.82 126.58L393.74 126.66L394.66 126.74L395.59 126.82L396.51 126.90L397.44 126.99L398.36 127.07L399.28 127.15L400.21 127.24L401.13 127.32L402.05 127.41L402.98 127.49L403.90 127.58L404.83 127.66L405.75 127.75" stroke="#0000ff"/>
<path d="M61.30 110.36L62.22 110.06L63.14 109.76L64.07 109.46L64.99 109.16L65.91 108.86L66.83 108.56L67.75 108.26L68.68 107.96L69.60 107.67L70.52 107.38L71.44 107.09L72.36 106.81L73.29 106.53L74.21 106.25L75.13 105.97L76.05 105.69L76.98 105.42L77.90 105.14L78.82 104.86L79.74 104.58L80.67 104.29L81.59 104.01L82.51 103.73L83.43 103.45L84.36 103.17L85.28 102.88L86.20 102.60L87.12 102.31L88.04 102.01L88.96 101.72L89.89 101.42L90.81 101.11L91.74 100.81L92.66 100.50L93.58 100.19L94.50 99.88L95.43 99.57L96.35 99.25L97.27 98.92L98.19 98.59L99.11 98.25L100.04 97.91L100.96 97.57L101.88 97.22L102.81 96.87L103.73 96.51L104.65 96.15L105.57 95.78L106.49 95.40L107.41 95.02L108.25 94.67L109.09 94.31L109.93 93.95L110.77 93.58L111.61 93.21L112.45 92.83L113.29 92.45L114.13 92.07L114.96 91.68L115.80 91.28L116.63 90.88L117.47 90.46L118.32 90.05L119.16 89.62L120.00 89.19L120.84 88.76L121.68 88.32L122.51 87.88L123.35 87.43L124.19 86.97L125.02 86.51L125.85 86.04L126.70 85.56L127.54 85.07L128.38 84.58L129.22 84.08L130.06 83.58L130.90 83.07L131.74 82.56L132.57 82.04L133.41 81.51L134.24 80.98L135.07 80.44L135.85 79.94L136.62 79.42L137.39 78.91L138.17 78.38L138.94 77.86L139.71 77.32L140.47 76.79L141.24 76.25L142.01 75.70L142.77 75.15L143.53 74.60L144.29 74.04L145.07 73.46L145.84 72.88L146.62 72.29L147.39 71.70L148.16 71.11L148.93 70.51L149.70 69.90L150.46 69.29L151.23 68.68L151.99 68.06L152.75 67.44L153.51 66.81L154.23 66.22L154.95 65.62L155.66 65.02L156.37 64.41L157.08 63.80L157.79 63.19L158.50 62.57L159.21 61.95L159.92 61.33L160.62 60.70L161.33 60.07L162.03 59.43L162.74 58.80L163.45 58.14L164.17 57.49L164.88 56.83L165.59 56.16L166.30 55.49L167.01 54.82L167.72 54.15L168.43 53.47L169.14 52.79L169.84 52.11L170.55 51.42L171.25 50.73L171.96 50.04L172.62 49.39L173.28 48.73L173.95 48.07L174.61 47.40L175.27 46.74L175.93 46.07L176.59 45.39L177.24 44.72L177.90 44.04L178.56 43.37L179.21 42.69L179.87 42.01L180.52 41.32L181.18 40.64L181.85 39.93L182.52 39.20L183.21 38.46L183.89 37.70L184.58 36.94L185.27 36.18L185.95 35.43L186.63 34.68L187.29 33.95L187.95 33.24L188.59 32.56L189.21 31.90L189.82 31.28L190.40 30.70L191.19 29.94L191.96 29.22L192.71 28.53L193.43 27.89L194.12 27.31L194.78 26.77L195.40 26.30L196.25 25.70L197.04 25.22L197.80 24.85L198.74 24.50L199.70 24.35L200.48 24.40L201.30 24.58L202.10 24.85L202.92 25.23L203.73 25.71L204.50 26.30L205.14 26.93L205.76 27.67L206.35 28.47L206.90 29.30L207.35 30.06L207.77 30.87L208.17 31.70L208.54 32.55L208.90 33.40L209.24 34.25L209.55 35.09L209.84 35.96L210.13 36.85L210.40 37.80L210.63 38.65L210.85 39.52L211.07 40.41L211.27 41.34L211.47 42.31L211.66 43.32L211.85 44.40L211.98 45.20L212.10 46.04L212.22 46.93L212.34 47.85L212.45 48.79L212.56 49.76L212.67 50.74L212.77 51.73L212.87 52.72L212.96 53.70L213.05 54.66L213.14 55.61L213.22 56.52L213.30 57.40L213.38 58.43L213.46 59.44L213.53 60.45L213.59 61.44L213.64 62.41L213.70 63.37L213.75 64.31L213.80 65.23L213.85 66.12L213.90 67.00L213.96 67.98L214.02 68.92L214.08 69.83L214.13 70.73L214.19 71.61L214.24 72.50L214.30 73.40" stroke="#ff0000"/>
<path d="M61.30 140.47L62.22 140.25L63.14 140.04L64.06 139.82L64.97 139.61L65.89 139.39L66.81 139.18L67.73 138.96L68.65 138.74L69.57 138.52L70.49 138.30L71.40 138.08L72.32 137.85L73.24 137.63L74.16 137.40L75.08 137.18L76.00 136.95L76.92 136.72L77.84 136.49L78.75 136.26L79.67 136.02L80.59 135.78L81.51 135.55L82.43 135.31L83.35 135.07L84.27 134.82L85.19 134.58L86.10 134.33L87.02 134.09L87.94 133.84L88.86 133.58L89.78 133.33L90.70 133.07L91.62 132.81L92.54 132.55L93.45 132.28L94.37 132.02L95.29 131.75L96.21 131.47L97.13 131.20L98.04 130.92L98.96 130.64L99.88 130.35L100.80 130.06L101.72 129.77L102.64 129.48L103.56 129.18L104.48 128.88L105.40 128.58L106.31 128.27L107.23 127.96L108.15 127.64L109.07 127.32L109.99 126.99L110.91 126.67L111.83 126.34L112.75 126.00L113.67 125.66L114.58 125.31L115.50 124.96L116.41 124.61L117.34 124.25L118.26 123.88L119.18 123.51L120.10 123.14L121.02 122.76L121.94 122.37L122.85 121.98L123.77 121.59L124.69 121.19L125.60 120.78L126.44 120.40L127.28 120.02L128.12 119.63L128.95 119.24L129.79 118.84L130.63 118.44L131.46 118.03L132.29 117.62L133.13 117.20L133.96 116.78L134.79 116.35L135.63 115.91L136.47 115.47L137.31 115.02L138.14 114.56L138.98 114.10L139.82 113.64L140.65 113.17L141.48 112.69L142.31 112.20L143.14 111.71L143.97 111.22L144.81 110.70L145.66 110.19L146.50 109.66L147.34 109.13L148.17 108.59L149.01 108.05L149.84 107.50L150.67 106.95L151.50 106.38L152.33 105.81L153.16 105.24L153.93 104.69L154.71 104.13L155.48 103.57L156.25 103.01L157.02 102.44L157.78 101.86L158.55 101.28L159.31 100.69L160.07 100.09L160.83 99.49L161.59 98.88L162.34 98.27L163.06 97.68L163.78 97.08L164.49 96.48L165.20 95.87L165.91 95.26L166.62 94.64L167.33 94.02L168.03 93.39L168.73 92.75L169.44 92.11L170.14 91.47L170.83 90.81L171.53 90.16L172.20 89.52L172.86 88.87L173.53 88.23L174.19 87.57L174.85 86.91L175.51 86.25L176.16 85.58L176.82 84.90L177.47 84.22L178.13 83.54L178.78 82.85L179.42 82.15L180.07 81.45L180.71 80.74L181.34 80.03L181.98 79.30L182.62 78.53L183.27 77.75L183.92 76.96L184.56 76.16L185.20 75.37L185.84 74.58L186.46 73.81L187.08 73.05L187.68 72.33L188.26 71.64L188.83 70.99L189.38 70.39L189.90 69.84L190.67 69.09L191.40 68.42L192.09 67.82L192.76 67.27L193.43 66.73L194.10 66.20L194.82 65.61L195.53 65.02L196.23 64.47L196.94 63.98L197.65 63.60L198.40 63.30L199.16 63.09L199.92 62.97L200.70 62.95L201.61 63.04L202.55 63.24L203.47 63.56L204.30 64.00L204.92 64.49L205.50 65.09L206.03 65.76L206.52 66.48L207.00 67.20L207.48 67.99L207.92 68.82L208.33 69.69L208.72 70.57L209.10 71.45L209.48 72.36L209.85 73.28L210.20 74.21L210.54 75.16L210.85 76.10L211.15 77.05L211.42 78.01L211.68 78.97L211.93 79.94L212.15 80.90L212.35 81.83L212.53 82.75L212.69 83.68L212.84 84.62L213.00 85.60L213.15 86.53L213.30 87.47L213.44 88.44L213.58 89.43L213.70 90.44L213.80 91.50L213.87 92.38L213.92 93.31L213.96 94.27L213.99 95.24L214.01 96.23L214.03 97.21L214.05 98.17L214.07 99.11L214.10 100.00L214.13 100.94L214.16 101.84L214.19 102.73L214.22 103.59L214.24 104.46L214.27 105.32L214.30 106.20" stroke="#ff0000"/>
<path d="M214.50 73.40L214.75 72.74L215.00 72.08L215.30 71.40L215.70 70.57L216.16 69.72L216.70 68.90L217.22 68.25L217.79 67.61L218.42 67.01L219.10 66.50L219.86 66.08L220.68 65.75L221.54 65.46L222.40 65.20L223.26 64.96L224.13 64.76L225.03 64.58L226.00 64.40L226.76 64.28L227.55 64.17L228.38 64.07L229.24 63.97L230.13 63.87L231.05 63.76L232.00 63.63L232.83 63.51L233.69 63.39L234.59 63.26L235.52 63.12L236.46 62.98L237.42 62.83L238.39 62.68L239.36 62.53L240.33 62.38L241.28 62.23L242.22 62.08L243.15 61.93L244.08 61.78L245.01 61.62L245.94 61.47L246.87 61.31L247.80 61.15L248.73 60.99L249.66 60.83L250.58 60.67L251.51 60.50L252.44 60.34L253.37 60.17L254.30 60.01L255.23 59.84L256.16 59.67L257.09 59.50L258.02 59.32L258.95 59.15L259.88 58.97L260.80 58.80L261.73 58.62L262.66 58.45L263.59 58.27L264.52 58.09L265.45 57.91L266.38 57.73L267.31 57.54L268.24 57.36L269.17 57.18L270.10 56.99L271.02 56.81L271.95 56.62L272.88 56.44L273.81 56.25L274.74 56.06L275.67 55.87L276.60 55.68L277.53 55.49L278.46 55.30L279.39 55.11L280.32 54.92L281.25 54.73L282.17 54.54L283.10 54.35L284.03 54.15L284.96 53.96L285.89 53.77L286.82 53.57L287.75 53.38L288.68 53.19L289.61 52.99L290.54 52.80L291.47 52.60L292.39 52.41L293.32 52.21L294.25 52.02L295.18 51.82L296.11 51.63L297.04 51.43L297.97 51.24L298.90 51.04L299.83 50.85L300.76 50.65L301.69 50.46L302.61 50.27L303.54 50.07L304.47 49.88L305.40 49.68L306.33 49.49L307.26 49.30L308.19 49.11L309.12 48.91L310.05 48.72L310.98 48.53L311.91 48.34L312.84 48.15L313.76 47.96L314.69 47.77L315.62 47.58L316.55 47.39L317.48 47.20L318.41 47.02L319.34 46.83L320.27 46.64L321.20 46.46L322.13 46.28L323.06 46.09L323.99 45.91L324.91 45.73L325.84 45.55L326.77 45.37L327.70 45.19L328.63 45.01L329.56 44.83L330.49 44.66L331.42 44.48L332.35 44.31L333.28 44.13L334.21 43.96L335.13 43.79L336.06 43.62L336.99 43.45L337.92 43.29L338.85 43.12L339.78 42.96L340.71 42.79L341.64 42.63L342.57 42.47L343.50 42.31L344.43 42.15L345.36 42.00L346.28 41.84L347.21 41.69L348.14 41.53L349.07 41.38L350.00 41.23L350.93 41.09L351.86 40.94L352.79 40.80L353.72 40.65L354.65 40.51L355.58 40.37L356.50 40.24L357.43 40.10L358.36 39.97L359.29 39.84L360.22 39.71L361.15 39.58L362.08 39.45L363.01 39.33L363.94 39.21L364.87 39.09L365.80 38.97L366.72 38.85L367.65 38.74L368.58 38.63L369.51 38.52L370.44 38.41L371.37 38.30L372.30 38.20L373.23 38.10L374.16 38.00L375.09 37.90L376.02 37.81L376.95 37.72L377.87 37.63L378.80 37.54L379.73 37.46L380.66 37.37L381.59 37.29L382.52 37.22L383.45 37.14L384.38 37.07L385.31 37.00L386.24 36.93L387.17 36.87L388.10 36.81L389.02 36.75L389.95 36.69L390.88 36.64L391.81 36.59L392.74 36.54L393.67 36.50L394.60 36.46L395.53 36.42L396.46 36.38L397.39 36.35L398.32 36.33L399.25 36.31L400.17 36.29L401.10 36.27L402.03 36.26L402.96 36.24L403.89 36.23L404.82 36.21L405.75 36.19" stroke="#ff0000"/>
<path d="M214.50 106.40L214.87 105.71L215.30 105.00L215.76 104.28L216.31 103.51L217.00 102.80L217.69 102.31L218.50 101.84L219.39 101.41L220.30 101.03L221.20 100.70L222.04 100.44L222.88 100.25L223.74 100.09L224.64 99.95L225.60 99.80L226.42 99.67L227.29 99.55L228.18 99.43L229.10 99.32L230.05 99.21L231.02 99.09L232.01 98.98L233.00 98.86L233.86 98.76L234.75 98.65L235.66 98.55L236.58 98.45L237.51 98.35L238.45 98.24L239.40 98.13L240.35 98.03L241.29 97.92L242.23 97.81L243.16 97.70L244.09 97.58L245.01 97.47L245.93 97.35L246.86 97.23L247.78 97.11L248.71 96.99L249.63 96.86L250.55 96.74L251.48 96.62L252.40 96.49L253.32 96.36L254.25 96.23L255.17 96.10L256.10 95.97L257.02 95.84L257.94 95.71L258.87 95.57L259.79 95.44L260.71 95.30L261.64 95.16L262.56 95.03L263.49 94.89L264.41 94.75L265.33 94.61L266.26 94.46L267.18 94.32L268.11 94.18L269.03 94.03L269.95 93.89L270.88 93.74L271.80 93.59L272.72 93.44L273.65 93.30L274.57 93.15L275.50 93.00L276.42 92.85L277.34 92.70L278.27 92.54L279.19 92.39L280.11 92.24L281.04 92.09L281.96 91.93L282.89 91.78L283.81 91.62L284.73 91.47L285.66 91.31L286.58 91.15L287.50 91.00L288.43 90.84L289.35 90.68L290.28 90.52L291.20 90.37L292.12 90.21L293.05 90.05L293.97 89.89L294.89 89.73L295.82 89.57L296.74 89.41L297.67 89.25L298.59 89.09L299.51 88.93L300.44 88.77L301.36 88.61L302.28 88.45L303.21 88.29L304.13 88.13L305.06 87.97L305.98 87.81L306.90 87.65L307.83 87.49L308.75 87.33L309.67 87.17L310.60 87.01L311.52 86.85L312.45 86.69L313.37 86.53L314.29 86.37L315.22 86.21L316.14 86.05L317.07 85.89L317.99 85.73L318.91 85.57L319.84 85.42L320.76 85.26L321.68 85.10L322.61 84.94L323.53 84.79L324.46 84.63L325.38 84.48L326.30 84.32L327.23 84.17L328.15 84.01L329.07 83.86L330.00 83.71L330.92 83.56L331.85 83.40L332.77 83.25L333.69 83.10L334.62 82.95L335.54 82.81L336.46 82.66L337.39 82.51L338.31 82.36L339.24 82.22L340.16 82.07L341.08 81.93L342.01 81.78L342.93 81.64L343.86 81.50L344.78 81.36L345.70 81.22L346.63 81.08L347.55 80.94L348.47 80.80L349.40 80.67L350.32 80.53L351.24 80.40L352.17 80.27L353.09 80.13L354.02 80.00L354.94 79.87L355.86 79.75L356.79 79.62L357.71 79.49L358.64 79.37L359.56 79.24L360.48 79.12L361.41 79.00L362.33 78.88L363.25 78.76L364.18 78.65L365.10 78.53L366.03 78.42L366.95 78.30L367.87 78.19L368.80 78.08L369.72 77.97L370.64 77.87L371.57 77.76L372.49 77.66L373.42 77.55L374.34 77.45L375.26 77.35L376.19 77.26L377.11 77.16L378.04 77.07L378.96 76.97L379.88 76.88L380.81 76.79L381.73 76.71L382.65 76.62L383.58 76.54L384.50 76.46L385.43 76.38L386.35 76.30L387.27 76.22L388.20 76.15L389.12 76.07L390.04 76.00L390.97 75.93L391.89 75.87L392.82 75.80L393.74 75.74L394.66 75.68L395.59 75.62L396.51 75.56L397.44 75.51L398.36 75.46L399.28 75.42L400.21 75.37L401.13 75.33L402.05 75.29L402.98 75.25L403.90 75.21L404.83 75.16L405.75 75.12" stroke="#ff0000"/>
<path d="M214.40 213.30L214.43 212.38L214.45 211.45L214.47 210.50L214.49 209.56L214.51 208.61L214.53 207.67L214.55 206.75L214.58 205.84L214.61 204.96L214.65 204.11L214.70 203.30L214.76 202.35L214.81 201.45L214.86 200.57L214.93 199.73L215.01 198.90L215.14 198.10L215.30 197.30L215.51 196.46L215.75 195.64L216.01 194.83L216.32 194.06L216.68 193.31L217.10 192.60L217.58 191.92L218.13 191.27L218.72 190.65L219.36 190.06L220.02 189.51L220.70 189.00L221.40 188.53L222.13 188.11L222.89 187.73L223.68 187.37L224.51 187.03L225.40 186.70L226.20 186.42L227.05 186.16L227.94 185.92L228.86 185.68L229.81 185.45L230.77 185.23L231.75 185.02L232.73 184.80L233.70 184.59L234.58 184.39L235.48 184.20L236.38 184.02L237.30 183.84L238.23 183.66L239.16 183.49L240.10 183.31L241.03 183.14L241.97 182.96L242.90 182.78L243.82 182.61L244.74 182.43L245.66 182.25L246.58 182.07L247.50 181.89L248.42 181.71L249.34 181.53L250.26 181.35L251.18 181.17L252.10 180.99L253.02 180.81L253.94 180.64L254.86 180.46L255.78 180.28L256.70 180.10L257.62 179.92L258.54 179.74L259.46 179.57L260.38 179.39L261.30 179.21L262.22 179.03L263.14 178.85L264.06 178.68L264.98 178.50L265.90 178.32L266.82 178.15L267.74 177.97L268.66 177.79L269.58 177.62L270.50 177.44L271.42 177.26L272.34 177.09L273.26 176.91L274.18 176.73L275.10 176.56L276.02 176.38L276.94 176.21L277.86 176.03L278.78 175.86L279.70 175.68L280.62 175.51L281.54 175.33L282.46 175.16L283.38 174.98L284.30 174.81L285.22 174.64L286.14 174.46L287.06 174.29L287.98 174.11L288.90 173.94L289.82 173.77L290.74 173.60L291.66 173.42L292.58 173.25L293.50 173.08L294.42 172.91L295.34 172.73L296.26 172.56L297.18 172.39L298.10 172.22L299.02 172.05L299.94 171.88L300.86 171.70L301.78 171.53L302.70 171.36L303.62 171.19L304.54 171.02L305.46 170.85L306.38 170.68L307.30 170.51L308.22 170.35L309.14 170.18L310.06 170.01L310.98 169.84L311.90 169.67L312.82 169.50L313.74 169.33L314.66 169.17L315.58 169.00L316.50 168.83L317.42 168.66L318.34 168.50L319.26 168.33L320.18 168.17L321.10 168.00L322.02 167.83L322.94 167.67L323.87 167.50L324.79 167.34L325.71 167.17L326.63 167.01L327.55 166.84L328.47 166.68L329.39 166.52L330.31 166.35L331.23 166.19L332.15 166.03L333.07 165.86L333.99 165.70L334.91 165.54L335.83 165.38L336.75 165.22L337.67 165.05L338.59 164.89L339.51 164.73L340.43 164.57L341.35 164.41L342.27 164.25L343.19 164.09L344.11 163.93L345.03 163.77L345.95 163.61L346.87 163.46L347.79 163.30L348.71 163.14L349.63 162.98L350.55 162.83L351.47 162.67L352.39 162.51L353.31 162.36L354.23 162.20L355.15 162.04L356.07 161.89L356.99 161.73L357.91 161.58L358.83 161.42L359.75 161.27L360.67 161.12L361.59 160.96L362.51 160.81L363.43 160.66L364.35 160.50L365.27 160.35L366.19 160.20L367.11 160.05L368.03 159.90L368.95 159.75L369.87 159.59L370.79 159.44L371.71 159.29L372.63 159.15L373.55 159.00L374.47 158.85L375.39 158.70L376.31 158.55L377.23 158.40L378.15 158.26L379.07 158.11L379.99 157.96L380.91 157.82L381.83 157.67L382.75 157.52L383.67 157.38L384.59 157.23L385.51 157.09L386.43 156.95L387.35 156.80L388.27 156.66L389.19 156.52L390.11 156.37L391.03 156.23L391.95 156.09L392.87 155.95L393.79 155.81L394.71 155.67L395.63 155.53L396.55 155.39L397.47 155.25L398.39 155.11L399.31 154.97L400.23 154.83L401.15 154.70L402.07 154.56L402.99 154.42L403.91 154.29L404.83 154.15L405.75 154.01" stroke="#ff00ff" stroke-width="0.85"/>
<path d="M214.80 213.30L214.82 212.37L214.84 211.45L214.85 210.53L214.87 209.60L214.90 208.68L214.94 207.74L215.00 206.80L215.07 205.91L215.14 205.00L215.22 204.07L215.31 203.14L215.42 202.23L215.55 201.34L215.71 200.49L215.90 199.70L216.18 198.76L216.49 197.87L216.84 197.03L217.24 196.24L217.70 195.50L218.20 194.84L218.76 194.23L219.36 193.66L220.01 193.12L220.70 192.60L221.38 192.14L222.10 191.70L222.86 191.30L223.66 190.91L224.51 190.55L225.40 190.20L226.20 189.92L227.05 189.67L227.94 189.43L228.86 189.21L229.81 189.00L230.77 188.80L231.75 188.61L232.72 188.41L233.70 188.22L234.58 188.05L235.47 187.89L236.38 187.74L237.30 187.59L238.23 187.45L239.16 187.31L240.10 187.17L241.03 187.03L241.97 186.89L242.90 186.75L243.82 186.60L244.74 186.45L245.66 186.31L246.58 186.16L247.50 186.01L248.42 185.86L249.34 185.71L250.26 185.56L251.18 185.41L252.10 185.26L253.02 185.11L253.94 184.96L254.86 184.81L255.78 184.66L256.70 184.50L257.62 184.35L258.54 184.20L259.46 184.05L260.38 183.90L261.30 183.75L262.22 183.59L263.14 183.44L264.06 183.29L264.98 183.14L265.90 182.99L266.82 182.83L267.74 182.68L268.66 182.53L269.58 182.38L270.50 182.22L271.42 182.07L272.34 181.92L273.26 181.77L274.18 181.61L275.10 181.46L276.02 181.31L276.94 181.15L277.86 181.00L278.78 180.85L279.70 180.69L280.62 180.54L281.54 180.39L282.46 180.24L283.38 180.08L284.30 179.93L285.22 179.78L286.14 179.62L287.06 179.47L287.98 179.32L288.90 179.17L289.82 179.01L290.74 178.86L291.66 178.71L292.58 178.55L293.50 178.40L294.42 178.25L295.34 178.10L296.26 177.95L297.18 177.79L298.10 177.64L299.02 177.49L299.94 177.34L300.86 177.19L301.78 177.03L302.70 176.88L303.62 176.73L304.54 176.58L305.46 176.43L306.38 176.28L307.30 176.13L308.22 175.98L309.14 175.83L310.06 175.68L310.98 175.53L311.90 175.38L312.82 175.23L313.74 175.08L314.66 174.93L315.58 174.78L316.50 174.63L317.42 174.48L318.34 174.34L319.26 174.19L320.18 174.04L321.10 173.89L322.02 173.74L322.95 173.60L323.87 173.45L324.79 173.30L325.71 173.16L326.63 173.01L327.55 172.87L328.47 172.72L329.39 172.58L330.31 172.43L331.23 172.29L332.15 172.14L333.07 172.00L333.99 171.85L334.91 171.71L335.83 171.57L336.75 171.43L337.67 171.28L338.59 171.14L339.51 171.00L340.43 170.86L341.35 170.72L342.27 170.58L343.19 170.44L344.11 170.30L345.03 170.16L345.95 170.02L346.87 169.88L347.79 169.74L348.71 169.61L349.63 169.47L350.55 169.33L351.47 169.20L352.39 169.06L353.31 168.93L354.23 168.79L355.15 168.66L356.07 168.52L356.99 168.39L357.91 168.26L358.83 168.12L359.75 167.99L360.67 167.86L361.59 167.73L362.51 167.60L363.43 167.47L364.35 167.34L365.27 167.21L366.19 167.08L367.11 166.95L368.03 166.82L368.95 166.70L369.87 166.57L370.79 166.45L371.71 166.32L372.63 166.20L373.55 166.07L374.47 165.95L375.39 165.82L376.31 165.70L377.23 165.58L378.15 165.46L379.07 165.34L379.99 165.22L380.91 165.10L381.83 164.98L382.75 164.86L383.67 164.74L384.59 164.63L385.51 164.51L386.43 164.40L387.35 164.28L388.27 164.17L389.19 164.05L390.11 163.94L391.03 163.83L391.95 163.72L392.87 163.61L393.79 163.50L394.71 163.39L395.63 163.28L396.55 163.17L397.47 163.06L398.39 162.96L399.31 162.85L400.23 162.75L401.15 162.65L402.07 162.54L402.99 162.44L403.91 162.34L404.83 162.23L405.75 162.13" stroke="#ff00ff" stroke-width="0.85"/>
</g>
<path d="M214.4 213.2 V0" stroke="#000" stroke-width="1.05" stroke-dasharray="7.7 7.9" fill="none"/>
<path d="M61.3 214.3 H214" stroke="#ff00ff" stroke-opacity="0.15" stroke-width="0.7" fill="none"/>
<path d="M61.30 213.25 v-4.05 M61.30 0.20 v4.15 M78.52 213.25 v-2.40 M78.52 0.20 v2.50 M95.74 213.25 v-2.40 M95.74 0.20 v2.50 M112.97 213.25 v-2.40 M112.97 0.20 v2.50 M130.19 213.25 v-2.40 M130.19 0.20 v2.50 M147.41 213.25 v-4.05 M147.41 0.20 v4.15 M164.63 213.25 v-2.40 M164.63 0.20 v2.50 M181.86 213.25 v-2.40 M181.86 0.20 v2.50 M199.08 213.25 v-2.40 M199.08 0.20 v2.50 M216.30 213.25 v-2.40 M216.30 0.20 v2.50 M233.52 213.25 v-4.05 M233.52 0.20 v4.15 M250.75 213.25 v-2.40 M250.75 0.20 v2.50 M267.97 213.25 v-2.40 M267.97 0.20 v2.50 M285.19 213.25 v-2.40 M285.19 0.20 v2.50 M302.41 213.25 v-2.40 M302.41 0.20 v2.50 M319.64 213.25 v-4.05 M319.64 0.20 v4.15 M336.86 213.25 v-2.40 M336.86 0.20 v2.50 M354.08 213.25 v-2.40 M354.08 0.20 v2.50 M371.30 213.25 v-2.40 M371.30 0.20 v2.50 M388.53 213.25 v-2.40 M388.53 0.20 v2.50 M405.75 213.25 v-4.05 M405.75 0.20 v4.15 M61.30 204.13 h2.50 M405.75 204.13 h-2.50 M61.30 194.66 h2.50 M405.75 194.66 h-2.50 M61.30 185.19 h2.50 M405.75 185.19 h-2.50 M61.30 175.72 h2.50 M405.75 175.72 h-2.50 M61.30 166.25 h4.15 M405.75 166.25 h-4.15 M61.30 156.78 h2.50 M405.75 156.78 h-2.50 M61.30 147.31 h2.50 M405.75 147.31 h-2.50 M61.30 137.84 h2.50 M405.75 137.84 h-2.50 M61.30 128.37 h2.50 M405.75 128.37 h-2.50 M61.30 118.90 h4.15 M405.75 118.90 h-4.15 M61.30 109.43 h2.50 M405.75 109.43 h-2.50 M61.30 99.96 h2.50 M405.75 99.96 h-2.50 M61.30 90.49 h2.50 M405.75 90.49 h-2.50 M61.30 81.02 h2.50 M405.75 81.02 h-2.50 M61.30 71.55 h4.15 M405.75 71.55 h-4.15 M61.30 62.08 h2.50 M405.75 62.08 h-2.50 M61.30 52.61 h2.50 M405.75 52.61 h-2.50 M61.30 43.14 h2.50 M405.75 43.14 h-2.50 M61.30 33.67 h2.50 M405.75 33.67 h-2.50 M61.30 24.20 h4.15 M405.75 24.20 h-4.15 M61.30 14.73 h2.50 M405.75 14.73 h-2.50 M61.30 5.26 h2.50 M405.75 5.26 h-2.50" stroke="#000" stroke-width="0.85" fill="none"/>
<path d="M61.3 -1 V213.9 M405.75 -1 V213.9" stroke="#000" stroke-width="1.5" fill="none"/>
<path d="M60.55 0.2 H406.5" stroke="#000" stroke-width="1.5" fill="none"/>
<path d="M60.55 213.25 H406.5" stroke="#000" stroke-width="1.3" fill="none"/>
<path d="M214.4 272.0 H222.4" stroke="#000" stroke-width="0.9" fill="none"/>
<g fill="#000" filter="url(#nf)" stroke="#fff" stroke-width="0.15">
<text x="55.50" y="223.60" font-size="23.60" text-anchor="end" textLength="12.00" lengthAdjust="spacingAndGlyphs" stroke="none">0</text>
<text x="55.50" y="176.25" font-size="23.60" text-anchor="end" textLength="12.00" lengthAdjust="spacingAndGlyphs" stroke="none">1</text>
<text x="55.50" y="128.90" font-size="23.60" text-anchor="end" textLength="12.00" lengthAdjust="spacingAndGlyphs" stroke="none">2</text>
<text x="55.50" y="81.55" font-size="23.60" text-anchor="end" textLength="12.00" lengthAdjust="spacingAndGlyphs" stroke="none">3</text>
<text x="55.50" y="34.20" font-size="23.60" text-anchor="end" textLength="12.00" lengthAdjust="spacingAndGlyphs" stroke="none">4</text>
<text x="61.10" y="245.70" font-size="23.80" text-anchor="middle" textLength="29.00" lengthAdjust="spacingAndGlyphs" stroke="none">1.7</text>
<text x="147.21" y="245.70" font-size="23.80" text-anchor="middle" textLength="29.00" lengthAdjust="spacingAndGlyphs" stroke="none">1.8</text>
<text x="233.32" y="245.70" font-size="23.80" text-anchor="middle" textLength="29.00" lengthAdjust="spacingAndGlyphs" stroke="none">1.9</text>
<text x="319.44" y="245.70" font-size="23.80" text-anchor="middle" textLength="29.00" lengthAdjust="spacingAndGlyphs" stroke="none">2.0</text>
<text x="405.55" y="245.70" font-size="23.80" text-anchor="middle" textLength="29.00" lengthAdjust="spacingAndGlyphs" stroke="none">2.1</text>
<text x="306.30" y="33.10" font-size="22.70" text-anchor="start" textLength="47.20" lengthAdjust="spacingAndGlyphs" >total</text>
<text x="306.60" y="146.10" font-size="22.70" text-anchor="start" textLength="81.20" lengthAdjust="spacingAndGlyphs" >inelastic</text>
<text x="306.30" y="198.20" font-size="22.70" text-anchor="start" textLength="62.60" lengthAdjust="spacingAndGlyphs" >elastic</text>
<text x="83.44" y="32.90" font-size="22.70" text-anchor="start" textLength="8.27" lengthAdjust="spacingAndGlyphs" font-style="italic" >I</text>
<path d="M101.6 24.95 H117.2 M101.6 29.55 H117.2" stroke="#000" stroke-width="0.95" fill="none"/>
<text x="124.61" y="33.70" font-size="25.00" text-anchor="start" textLength="12.38" lengthAdjust="spacingAndGlyphs" >0</text>
<text x="167.78" y="285.50" font-size="22.70" text-anchor="start" textLength="21.19" lengthAdjust="spacingAndGlyphs" font-style="italic" >M</text>
<text x="193.02" y="285.80" font-size="25.00" text-anchor="start" textLength="5.75" lengthAdjust="spacingAndGlyphs" >(</text>
<text x="201.12" y="285.90" font-size="22.70" text-anchor="start" textLength="10.13" lengthAdjust="spacingAndGlyphs" font-style="italic" >p</text>
<text x="212.67" y="285.90" font-size="22.70" text-anchor="start" textLength="10.60" lengthAdjust="spacingAndGlyphs" font-style="italic" >p</text>
<text x="224.35" y="285.80" font-size="25.00" text-anchor="start" textLength="6.15" lengthAdjust="spacingAndGlyphs" >)</text>
<text x="240.12" y="285.80" font-size="25.00" text-anchor="start" textLength="6.53" lengthAdjust="spacingAndGlyphs" >(</text>
<text x="247.75" y="285.50" font-size="22.70" text-anchor="start" textLength="17.78" lengthAdjust="spacingAndGlyphs" >G</text>
<text x="265.33" y="285.50" font-size="22.70" text-anchor="start" textLength="12.27" lengthAdjust="spacingAndGlyphs" >e</text>
<text x="276.83" y="285.50" font-size="22.70" text-anchor="start" textLength="17.45" lengthAdjust="spacingAndGlyphs" >V</text>
<text x="292.98" y="285.80" font-size="25.00" text-anchor="start" textLength="6.92" lengthAdjust="spacingAndGlyphs" >)</text>
<g transform="translate(21.5,179.1) rotate(-90)"><text x="-0.94" y="0.00" font-size="22.40" text-anchor="start" textLength="61.53" lengthAdjust="spacingAndGlyphs" >events</text><text x="73.24" y="0.30" font-size="25.00" text-anchor="start" textLength="7.84" lengthAdjust="spacingAndGlyphs" >(</text><text x="81.95" y="0.00" font-size="23.50" text-anchor="start" textLength="12.37" lengthAdjust="spacingAndGlyphs" >5</text><text x="98.40" y="0.00" font-size="23.50" text-anchor="start" textLength="11.70" lengthAdjust="spacingAndGlyphs" >k</text><text x="110.23" y="0.00" font-size="22.40" text-anchor="start" textLength="10.98" lengthAdjust="spacingAndGlyphs" >e</text><text x="121.16" y="0.00" font-size="23.50" text-anchor="start" textLength="16.06" lengthAdjust="spacingAndGlyphs" >V</text><text x="137.31" y="0.30" font-size="25.00" text-anchor="start" textLength="7.69" lengthAdjust="spacingAndGlyphs" >)</text><path d="M61.3 6.6 L75.8 -16.6" stroke="#000" stroke-width="1.0" fill="none"/></g>
</g>
</svg>
</body></html>
